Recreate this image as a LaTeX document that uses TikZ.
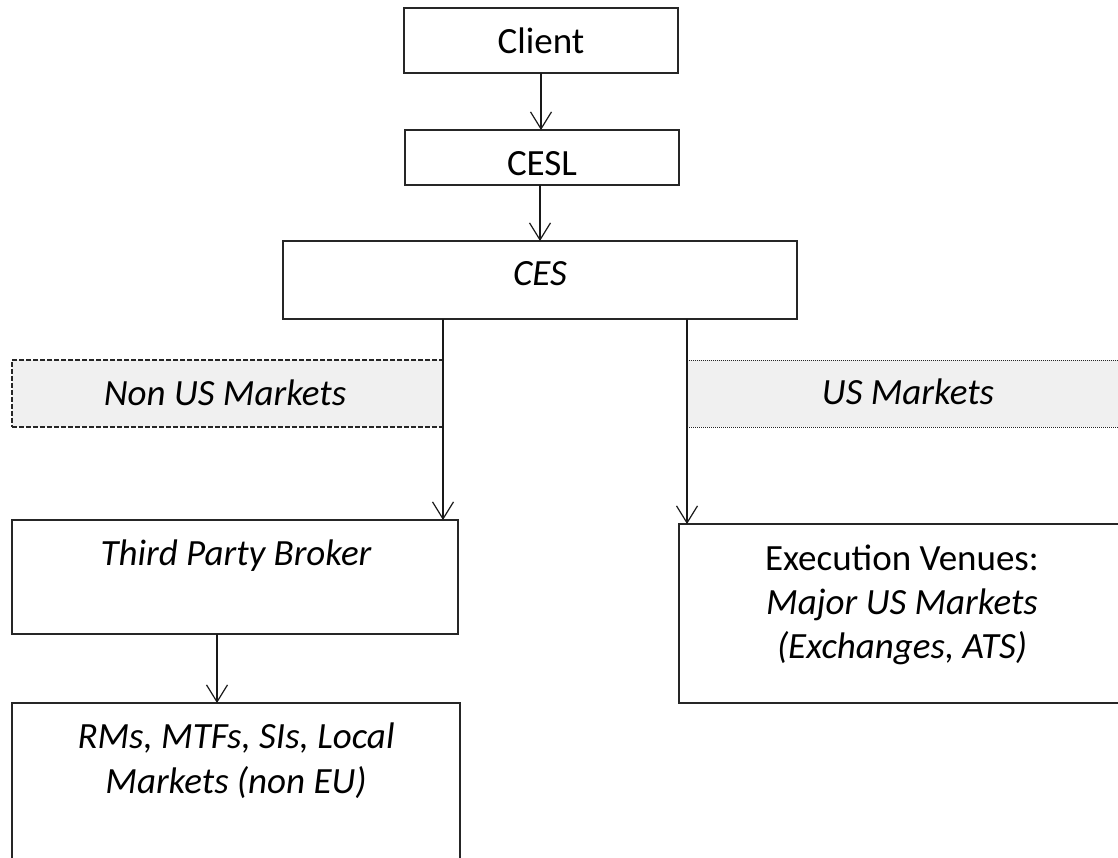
\documentclass[tikz,border=0pt]{standalone}
\usepackage{fontspec}
\setmainfont{Carlito}
\usetikzlibrary{arrows.meta,calc}
\begin{document}
\begin{tikzpicture}[x=1pt,y=-1pt,
  box/.style={draw=black!85, line width=1.3pt, rectangle, inner sep=0pt, outer sep=0pt, anchor=north west},
  grayband/.style={box, fill=black!6},
  txt/.style={anchor=base, inner sep=0pt, font=\fontsize{37}{44}\selectfont\itshape, align=center},
  uptxt/.style={txt, font=\fontsize{37}{44}\selectfont\upshape},
  arr/.style={draw=black!90, line width=1.3pt, -{Straight Barb[length=17pt,width=21pt,line width=1.2pt]}}
]
\clip (0,0) rectangle (1118,857);
\useasboundingbox (0,0) rectangle (1118,857);
% boxes
\node[box, minimum width=274pt, minimum height=65pt] (client) at (404,8) {};
\node[box, minimum width=274pt, minimum height=55pt] (cesl) at (405,130) {};
\node[box, minimum width=514pt, minimum height=78pt] (ces) at (283,241) {};
\node[grayband, dash pattern=on 5pt off 2pt, minimum width=431pt, minimum height=67pt] (nonus) at (12,360) {};
\node[grayband, line width=1pt, dash pattern=on 1pt off 1pt, minimum width=440pt, minimum height=67pt] (us) at (687,360) {};
\node[box, minimum width=446pt, minimum height=114pt] (tpb) at (12,520) {};
\node[box, minimum width=448pt, minimum height=180pt] (rms) at (12,703) {};
\node[box, minimum width=448pt, minimum height=179pt] (ev) at (679,524) {};
% texts
\node[uptxt] (clientt) at (541,53) {Client};
\node[uptxt] (ceslt) at (542,175) {CESL};
\node[txt] (cest) at (540,285) {CES};
\node[txt] (nonust) at (225,405) {Non US Markets};
\node[txt] (ust) at (908,404) {US Markets};
\node[txt] (tpbt) at (236,565) {Third Party Broker};
\node[txt] (rmst1) at (236,748) {RMs, MTFs, SIs, Local};
\node[txt] (rmst2) at (236,793) {Markets (non EU)};
\node[uptxt] (evt1) at (902,570) {Execution Venues:};
\node[txt] (evt2) at (902,614) {Major US Markets};
\node[txt] (evt3) at (902,658) {(Exchanges, ATS)};
% connectors
\draw[arr] (client.south) -- (client.south |- cesl.north);
\draw[arr] (cesl.south -| ces.north) -- (ces.north);
\draw[arr] (ces.south -| nonus.east) -- (tpb.north -| nonus.east);
\draw[arr] (ces.south -| us.west) -- (ev.north -| us.west);
\draw[arr] ([xshift=-18pt]tpb.south) -- ([xshift=-18pt]tpb.south |- rms.north);
\end{tikzpicture}
\end{document}
